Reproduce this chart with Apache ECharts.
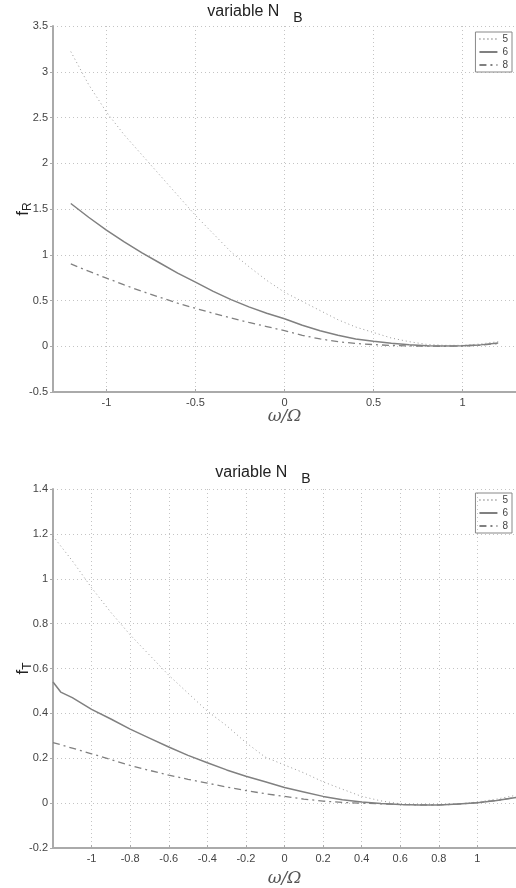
<!DOCTYPE html>
<html>
<head>
<meta charset="utf-8">
<script src="https://cdn.jsdelivr.net/npm/echarts@6/dist/echarts.min.js"></script>
<style>
html,body{margin:0;padding:0;background:#fff;}
#c{width:516px;height:888px;}
</style>
</head>
<body>
<div id="c"></div>
<script>
// ---- data ----
const seriesNames = ['5', '6', '8'];

// top panel: f_R vs omega/Omega
const xTop = [-1.2,-1.1,-1.0,-0.9,-0.8,-0.7,-0.6,-0.5,-0.4,-0.3,-0.2,-0.1,0,0.1,0.2,0.3,0.4,0.5,0.6,0.7,0.8,0.9,1.0,1.1,1.2];
const fR5 = [3.22,2.86,2.56,2.31,2.09,1.87,1.65,1.43,1.23,1.03,0.87,0.72,0.59,0.49,0.39,0.29,0.21,0.15,0.09,0.05,0.02,0.01,0.01,0.025,0.05];
const fR6 = [1.56,1.41,1.27,1.14,1.02,0.91,0.80,0.70,0.60,0.51,0.43,0.36,0.30,0.23,0.17,0.12,0.08,0.055,0.033,0.017,0.006,0.002,0.005,0.015,0.035];
const fR8 = [0.90,0.82,0.745,0.67,0.60,0.535,0.47,0.415,0.36,0.31,0.26,0.215,0.17,0.12,0.08,0.05,0.03,0.018,0.009,0.004,0.001,0.0,0.003,0.012,0.03];

// bottom panel: f_T vs omega/Omega
const xBot = [-1.2,-1.1,-1.0,-0.9,-0.8,-0.7,-0.6,-0.5,-0.4,-0.3,-0.2,-0.1,0,0.1,0.2,0.3,0.4,0.5,0.6,0.7,0.8,0.9,1.0,1.1,1.2];
const fT5 = [1.19,1.08,0.96,0.85,0.75,0.66,0.57,0.49,0.41,0.345,0.27,0.205,0.17,0.135,0.095,0.062,0.03,0.01,-0.003,-0.008,-0.008,-0.004,0.005,0.018,0.035];
const xBot6 = [-1.2,-1.16,-1.1,-1.0,-0.9,-0.8,-0.7,-0.6,-0.5,-0.4,-0.3,-0.2,-0.1,0,0.1,0.2,0.3,0.4,0.5,0.6,0.7,0.8,0.9,1.0,1.1,1.2];
const fT6 = [0.54,0.495,0.47,0.418,0.375,0.33,0.29,0.25,0.213,0.18,0.148,0.12,0.095,0.07,0.05,0.03,0.015,0.005,-0.002,-0.006,-0.008,-0.008,-0.004,0.002,0.012,0.025];
const fT8 = [0.27,0.245,0.22,0.194,0.168,0.146,0.125,0.106,0.089,0.072,0.056,0.042,0.03,0.018,0.009,0.003,0.0,-0.003,-0.006,-0.008,-0.008,-0.004,0.002,0.012,0.025];

// tick labels
const xTicksTop = [-1, -0.5, 0, 0.5, 1];

// ---- chart ----
const pair = (xs, ys) => xs.map((x, i) => [x, ys[i]]);
const chart = echarts.init(document.getElementById('c'), null, {renderer: 'canvas'});

const styles = {
  '5': {color: '#9a9a9a', width: 1, type: [1, 3]},
  '6': {color: '#808080', width: 1.5, type: 'solid'},
  '8': {color: '#808080', width: 1.3, type: [7, 4, 2, 4]}
};
function mk(name, data, g) {
  return {
    name: name, type: 'line', xAxisIndex: g, yAxisIndex: g,
    data: data, symbol: 'none', smooth: false, animation: false,
    lineStyle: styles[name], itemStyle: {color: styles[name].color}
  };
}
const font = 'Liberation Sans, Arial, sans-serif';
const gridLine = {show: true, lineStyle: {color: '#c4c4c4', type: [1, 3], width: 1}};
const axisLbl = {color: '#444', fontSize: 11, fontFamily: font};
const titleRich = {
  sub: {fontSize: 14, color: '#222', fontFamily: font, padding: [12, 0, 0, 14]}
};
function legendAt(top) {
  return {
    data: seriesNames, orient: 'vertical', right: 4, top: top, align: 'left',
    itemWidth: 18, itemHeight: 8, itemGap: 3,
    borderColor: '#888', borderWidth: 1, padding: [2, 4, 2, 3],
    itemStyle: {color: 'rgba(0,0,0,0)', borderColor: 'rgba(0,0,0,0)', borderWidth: 0, opacity: 0},
    textStyle: {color: '#444', fontSize: 10, fontFamily: font, padding: [0, 0, 0, 0]},
    selectedMode: false
  };
}
function xAxisCfg(g, min, max, gap, extra) {
  return Object.assign({
    type: 'value', gridIndex: g, min: min, max: max,
    name: 'ω/Ω', nameLocation: 'middle', nameGap: gap, nameMoveOverlap: false,
    nameTextStyle: {fontFamily: 'DejaVu Serif, serif', fontStyle: 'italic', fontSize: 17, color: '#555'},
    axisLine: {show: true, onZero: false, lineStyle: {color: '#aaa', width: 2}},
    axisTick: {show: true, inside: true, length: 3, lineStyle: {color: '#aaa'}},
    axisLabel: Object.assign({margin: 5, showMinLabel: false, showMaxLabel: false}, axisLbl),
    splitLine: gridLine
  }, extra);
}
function yAxisCfg(g, min, max, interval, sub) {
  return {
    type: 'value', gridIndex: g, min: min, max: max, interval: interval,
    name: 'f{s|' + sub + '}', nameLocation: 'middle', nameGap: 19, nameRotate: 90,
    nameMoveOverlap: false,
    nameTextStyle: {fontFamily: font, fontSize: 17, color: '#222',
      rich: {s: {fontSize: 12, color: '#222', fontFamily: font, padding: [10, 0, 0, 0]}}},
    axisLine: {show: true, onZero: false, lineStyle: {color: '#aaa', width: 2}},
    axisTick: {show: true, length: 3, lineStyle: {color: '#aaa'}},
    axisLabel: Object.assign({margin: 5}, axisLbl),
    splitLine: gridLine
  };
}

chart.setOption({
  backgroundColor: '#fff',
  animation: false,
  title: [
    {text: 'variable N{sub|B}', left: 250, textAlign: 'center', top: -6,
      textStyle: {fontFamily: font, fontSize: 16, fontWeight: 'normal', color: '#222', rich: titleRich}},
    {text: 'variable N{sub|B}', left: 258, textAlign: 'center', top: 455,
      textStyle: {fontFamily: font, fontSize: 16, fontWeight: 'normal', color: '#222', rich: titleRich}}
  ],
  legend: [legendAt(32), legendAt(493)],
  grid: [
    {left: 53, top: 26, height: 366, right: 0, containLabel: false},
    {left: 53, top: 489, height: 365, right: 0, containLabel: false}
  ],
  xAxis: [
    xAxisCfg(0, -1.3, 1.3, 16, {
      axisTick: {show: true, inside: true, length: 3, lineStyle: {color: '#aaa'}, customValues: xTicksTop},
      axisLabel: Object.assign({margin: 5, customValues: xTicksTop}, axisLbl)
    }),
    xAxisCfg(1, -1.2, 1.2, 22, {interval: 0.2})
  ],
  yAxis: [
    yAxisCfg(0, -0.5, 3.5, 0.5, 'R'),
    yAxisCfg(1, -0.2, 1.4, 0.2, 'T')
  ],
  series: [
    mk('5', pair(xTop, fR5), 0),
    mk('6', pair(xTop, fR6), 0),
    mk('8', pair(xTop, fR8), 0),
    mk('5', pair(xBot, fT5), 1),
    mk('6', pair(xBot6, fT6), 1),
    mk('8', pair(xBot, fT8), 1)
  ]
});
</script>
</body>
</html>
